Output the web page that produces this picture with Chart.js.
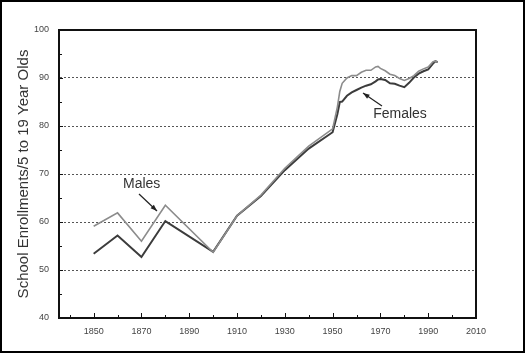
<!DOCTYPE html>
<html>
<head>
<meta charset="utf-8">
<script src="https://cdn.jsdelivr.net/npm/chart.js@4/dist/chart.umd.min.js"></script>
<style>
  html, body { margin: 0; padding: 0; background: #fff; }
  #wrap { width: 525px; height: 353px; position: relative; }
</style>
</head>
<body>
<div id="wrap"><canvas id="enrollChart"></canvas></div>
<script>
/* data ------------------------------------------------------------------ */
const years = [1850, 1860, 1870, 1880, 1900, 1910, 1920, 1930, 1940, 1950,
  1952, 1953, 1954, 1956, 1958, 1960, 1962, 1964, 1966, 1968, 1969, 1970,
  1972, 1974, 1976, 1978, 1980, 1982, 1984, 1986, 1988, 1990, 1992, 1993, 1994];

const males = [59.1, 61.9, 56.0, 63.5, 53.7, 61.3, 65.6, 71.2, 75.8, 79.4,
  84.0, 87.2, 88.9, 90.0, 90.5, 90.5, 91.2, 91.6, 91.6, 92.3, 92.4, 92.0,
  91.5, 90.8, 90.5, 89.9, 89.5, 89.9, 90.5, 91.4, 91.9, 92.3, 93.4, 93.5, 93.3];

const females = [53.4, 57.2, 52.7, 60.2, 53.8, 61.3, 65.4, 70.8, 75.3, 78.7,
  82.5, 85.0, 85.1, 86.3, 87.0, 87.5, 88.0, 88.4, 88.7, 89.3, 89.7, 89.8,
  89.6, 88.9, 88.8, 88.4, 88.1, 89.0, 90.1, 90.9, 91.4, 91.8, 93.0, 93.5, 93.3];

const xTicks = [1840, 1850, 1860, 1870, 1880, 1890, 1900, 1910, 1920, 1930,
  1940, 1950, 1960, 1970, 1980, 1990, 2000, 2010];
const xLabels = [1850, 1870, 1890, 1910, 1930, 1950, 1970, 1990, 2010];
const yTicks = [40, 50, 60, 70, 80, 90, 100];

const toPoints = (vals) => years.map((x, i) => ({ x, y: vals[i] }));

/* extras: frame, inward ticks, labels with arrows ------------------------ */
const extrasPlugin = {
  id: 'extras',
  afterDraw(chart) {
    const { ctx, chartArea: a, scales: { x, y } } = chart;
    ctx.save();

    // top + right edges of the plot box
    ctx.strokeStyle = '#111';
    ctx.lineWidth = 2;
    ctx.beginPath();
    ctx.moveTo(a.left, a.top);
    ctx.lineTo(a.right, a.top);
    ctx.lineTo(a.right, a.bottom);
    ctx.stroke();

    // inward ticks
    ctx.lineWidth = 1;
    xTicks.forEach((v) => {
      const px = Math.round(x.getPixelForValue(v)) + 0.5;
      const len = (v - 1850) % 20 === 0 ? 5 : 3;
      ctx.beginPath();
      ctx.moveTo(px, a.bottom);
      ctx.lineTo(px, a.bottom - len);
      ctx.stroke();
    });
    for (let v = 45; v < 100; v += 5) {
      const py = Math.round(y.getPixelForValue(v)) + 0.5;
      ctx.beginPath();
      ctx.moveTo(a.left, py);
      ctx.lineTo(a.left + (v % 10 === 0 ? 4 : 3), py);
      ctx.stroke();
    }

    // annotations
    ctx.fillStyle = '#333';
    ctx.font = '14px Arial, "Liberation Sans", sans-serif';
    ctx.textAlign = 'center';
    ctx.textBaseline = 'middle';
    ctx.fillText('Males', x.getPixelForValue(1870.1), y.getPixelForValue(67.9));
    ctx.fillText('Females', x.getPixelForValue(1978.2), y.getPixelForValue(82.5));

    const arrow = (x1, y1, x2, y2) => {
      ctx.strokeStyle = '#222';
      ctx.lineWidth = 1.2;
      ctx.beginPath();
      ctx.moveTo(x1, y1);
      ctx.lineTo(x2, y2);
      ctx.stroke();
      const ang = Math.atan2(y2 - y1, x2 - x1);
      ctx.beginPath();
      ctx.moveTo(x2, y2);
      ctx.lineTo(x2 - 7 * Math.cos(ang - 0.35), y2 - 7 * Math.sin(ang - 0.35));
      ctx.lineTo(x2 - 7 * Math.cos(ang + 0.35), y2 - 7 * Math.sin(ang + 0.35));
      ctx.closePath();
      ctx.fillStyle = '#222';
      ctx.fill();
    };
    arrow(139, 194, 157, 211);
    arrow(382, 106, 363, 93);

    // outer frame
    ctx.strokeStyle = '#000';
    ctx.lineWidth = 2;
    ctx.strokeRect(1, 1, chart.width - 2, chart.height - 2);
    ctx.restore();
  }
};

/* chart ------------------------------------------------------------------ */
new Chart(document.getElementById('enrollChart'), {
  type: 'line',
  data: {
    datasets: [
      {
        label: 'Males',
        data: toPoints(males),
        borderColor: '#8c8c8c',
        borderWidth: 1.6,
        pointRadius: 0,
        tension: 0,
      },
      {
        label: 'Females',
        data: toPoints(females),
        borderColor: '#3c3c3c',
        borderWidth: 2,
        pointRadius: 0,
        tension: 0,
      },
    ],
  },
  options: {
    responsive: true,
    maintainAspectRatio: false,
    animation: false,
    layout: { padding: { top: 30, right: 49, left: 0, bottom: 0 } },
    plugins: { legend: { display: false }, tooltip: { enabled: false } },
    scales: {
      x: {
        type: 'linear',
        min: 1835.5,
        max: 2010,
        afterBuildTicks: (s) => { s.ticks = xTicks.map((v) => ({ value: v })); },
        afterFit: (s) => { s.height = 35; },
        grid: { display: false, drawTicks: false },
        border: { display: true, color: '#111', width: 2 },
        ticks: {
          padding: 8,
          color: '#444',
          font: { family: 'Arial, "Liberation Sans", sans-serif', size: 9 },
          maxRotation: 0,
          autoSkip: false,
          callback: (v) => (xLabels.includes(v) ? String(v) : ''),
        },
      },
      y: {
        min: 40,
        max: 100,
        afterBuildTicks: (s) => { s.ticks = yTicks.map((v) => ({ value: v })); },
        afterFit: (s) => { s.width = 59; },
        grid: {
          drawTicks: false,
          color: (c) => (c.tick && (c.tick.value === 40 || c.tick.value === 100) ? 'rgba(0,0,0,0)' : '#555'),
          lineWidth: 1,
        },
        // in v4 border.dash styles the grid lines
        border: { display: true, color: '#111', width: 2, dash: [2, 2] },
        ticks: {
          padding: 10,
          color: '#444',
          font: { family: 'Arial, "Liberation Sans", sans-serif', size: 9 },
        },
        title: {
          display: true,
          text: 'School Enrollments/5 to 19 Year Olds',
          color: '#333',
          font: { family: 'Arial, "Liberation Sans", sans-serif', size: 15 },
          padding: { top: 15, bottom: 0 },
        },
      },
    },
  },
  plugins: [extrasPlugin],
});
</script>
</body>
</html>
